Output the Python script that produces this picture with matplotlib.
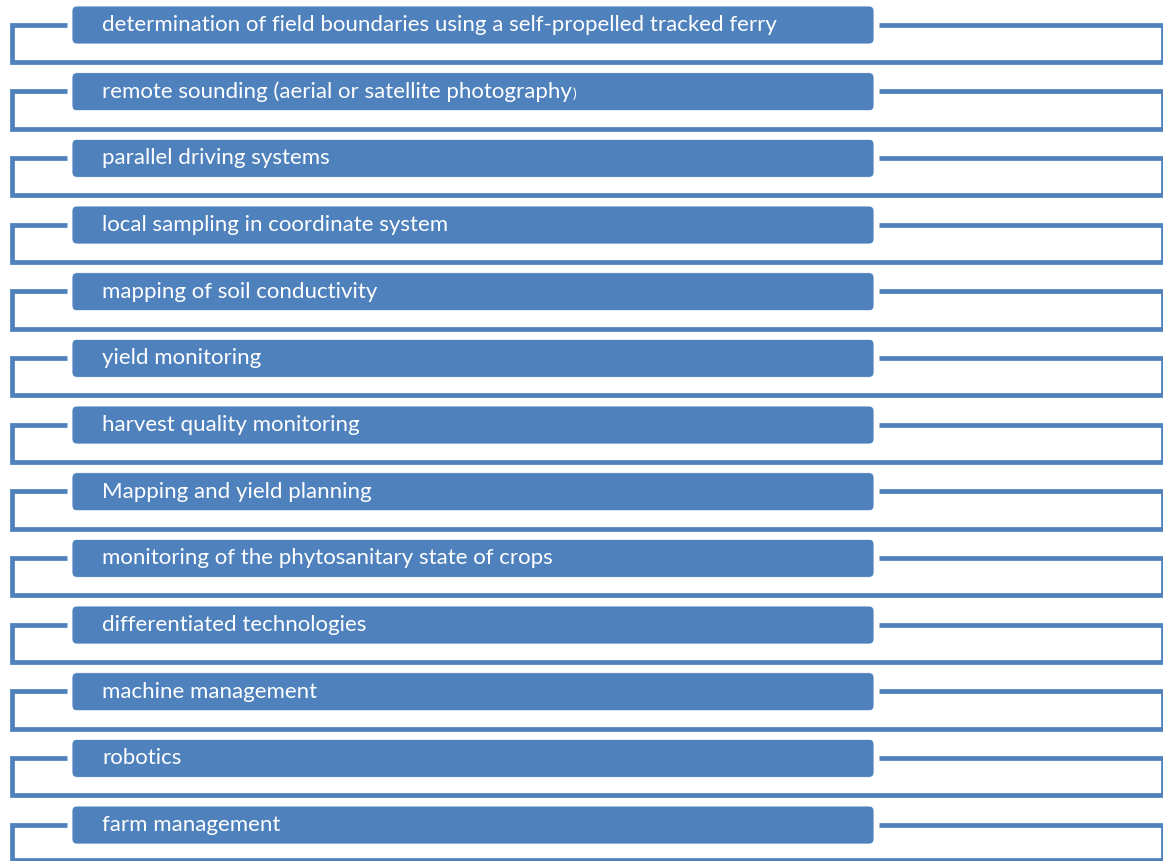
import matplotlib
matplotlib.use("Agg")
from matplotlib import pyplot as plt
from matplotlib import patches

labels = [
    "determination of field boundaries using a self-propelled tracked ferry",
    "remote sounding (aerial or satellite photography",
    "parallel driving systems",
    "local sampling in coordinate system",
    "mapping of soil conductivity",
    "yield monitoring",
    "harvest quality monitoring",
    "Mapping and yield planning",
    "monitoring of the phytosanitary state of crops",
    "differentiated technologies",
    "machine management",
    "robotics",
    "farm management",
]

blue = "#4F81BD"
W, H = 1163, 861

fig = plt.figure(figsize=(W / 100, H / 100), dpi=100)
ax = fig.add_axes([0, 0, 1, 1])
ax.set_xlim(0, W)
ax.set_ylim(H, 0)
ax.axis("off")

pitch = 66.67
box_x0, box_x1 = 72, 874
box_h = 38
lw = 3.4

for i, label in enumerate(labels):
    top = 6 + i * pitch
    mid = top + 18.5
    bottom = min(top + 56, 860)

    # bracket running round the box
    ax.plot([67, 12, 12, W], [mid, mid, bottom, bottom], color=blue, lw=lw,
            solid_capstyle="butt", solid_joinstyle="miter")
    ax.plot([879, 1162.5, 1162.5], [mid, mid, bottom], color=blue, lw=lw,
            solid_capstyle="butt", solid_joinstyle="miter")

    box = patches.FancyBboxPatch((box_x0, top), box_x1 - box_x0, box_h,
                                 boxstyle="round,pad=0,rounding_size=5",
                                 facecolor=blue, edgecolor="white", lw=0.6)
    ax.add_patch(box)
    t = ax.text(102, top + box_h / 2, label, color="white", fontsize=16,
                family="Lato", va="center", ha="left")
    if label.endswith("photography"):
        fig.canvas.draw()
        bb = t.get_window_extent()
        ax.text(102 + bb.width + 1, top + box_h / 2 + 2, ")", color="white",
                fontsize=10, family="Lato", va="center", ha="left")

fig.savefig("out.png", dpi=100)
